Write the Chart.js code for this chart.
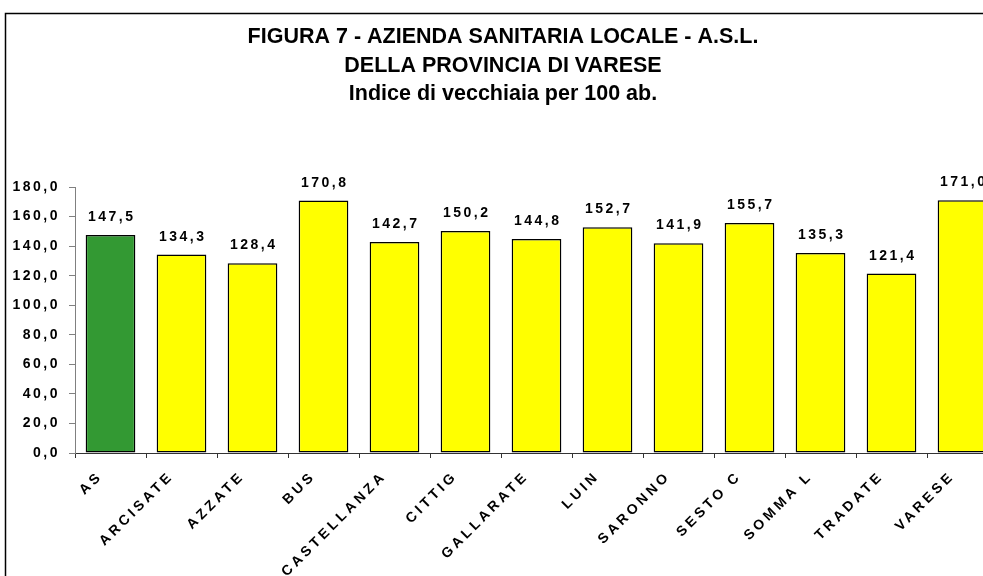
<!DOCTYPE html>
<html><head><meta charset="utf-8">
<script src="https://cdn.jsdelivr.net/npm/chart.js@4.4.0/dist/chart.umd.min.js"></script>
<style>html,body{margin:0;padding:0;overflow:hidden;background:#fff;width:983px;height:576px}canvas{display:block}</style>
</head><body><canvas id="c" width="1010" height="576"></canvas>
<script>
const titleLines = ["FIGURA 7 - AZIENDA SANITARIA LOCALE - A.S.L.", "DELLA PROVINCIA DI VARESE", "Indice di vecchiaia per 100 ab."];
const categories = ["AS", "ARCISATE", "AZZATE", "BUS", "CASTELLANZA", "CITTIG", "GALLARATE", "LUIN", "SARONNO", "SESTO C", "SOMMA L", "TRADATE", "VARESE"];
const values = [147.5, 134.3, 128.4, 170.8, 142.7, 150.2, 144.8, 152.7, 141.9, 155.7, 135.3, 121.4, 171.0];
const barColors = ["#339933", "#ffff00", "#ffff00", "#ffff00", "#ffff00", "#ffff00", "#ffff00", "#ffff00", "#ffff00", "#ffff00", "#ffff00", "#ffff00", "#ffff00"];
const yMin = 0, yMax = 180, yStep = 20;

const fmt = v => v.toFixed(1).replace('.', ',');
const FONT = "'Liberation Sans', Arial, sans-serif";

function wrapLabels(scale, spacing) {
  if (scale._lsWrapped) return;
  const orig = scale.drawLabels.bind(scale);
  scale.drawLabels = (ca) => {
    const c = scale.ctx;
    c.save();
    c.letterSpacing = spacing;
    orig(ca);
    c.restore();
  };
  scale._lsWrapped = true;
}

const framePlugin = {
  id: 'frame',
  beforeDraw(chart) {
    const ctx = chart.ctx;
    wrapLabels(chart.scales.x, '3.5px');
    wrapLabels(chart.scales.y, '2.5px');
    ctx.save();
    ctx.strokeStyle = '#000';
    ctx.lineWidth = 1.5;
    ctx.strokeRect(5.5, 13.5, 1200, 1000);
    ctx.restore();
  },
  afterDatasetsDraw(chart) {
    const ctx = chart.ctx;
    const meta = chart.getDatasetMeta(0);
    ctx.save();
    ctx.letterSpacing = '2.5px';
    ctx.font = "bold 14px " + FONT;
    ctx.fillStyle = '#000';
    ctx.textAlign = 'center';
    ctx.textBaseline = 'alphabetic';
    meta.data.forEach((bar, i) => {
      ctx.fillText(fmt(values[i]), bar.x + 1.25, bar.y - 14);
    });
    ctx.restore();
  },
  afterDraw(chart) {
    const ctx = chart.ctx;
    ctx.save();
    ctx.letterSpacing = '0px';
    ctx.font = "bold 21.5px " + FONT;
    ctx.fillStyle = '#000';
    ctx.textAlign = 'center';
    ctx.textBaseline = 'alphabetic';
    const ys = [43, 72, 100];
    titleLines.forEach((t, i) => ctx.fillText(t, 503, ys[i]));
    ctx.restore();
  }
};

new Chart(document.getElementById('c'), {
  type: 'bar',
  data: {
    labels: categories,
    datasets: [{
      data: values,
      backgroundColor: barColors,
      borderColor: '#000',
      borderWidth: 1.5,
      borderSkipped: false,
      categoryPercentage: 1,
      barPercentage: 0.7
    }]
  },
  options: {
    responsive: false,
    animation: false,
    layout: { padding: { left: 5, top: 187, right: 12, bottom: 0 } },
    plugins: { legend: { display: false }, title: { display: false }, tooltip: { enabled: false } },
    scales: {
      x: {
        grid: { display: true, drawOnChartArea: false, tickLength: 5, color: '#333', offset: true },
        border: { color: '#333', width: 1 },
        ticks: { font: { family: FONT, size: 14, weight: 'bold' }, color: '#000', minRotation: 45, maxRotation: 45, autoSkip: false, padding: 10, labelOffset: -10 },
        afterFit: s => { s.height = 123; }
      },
      y: {
        min: yMin, max: yMax,
        grid: { display: true, drawOnChartArea: false, tickLength: 6, color: '#808080' },
        border: { color: '#808080', width: 1 },
        ticks: { stepSize: yStep, callback: v => fmt(v), font: { family: FONT, size: 14, weight: 'bold' }, color: '#000', padding: 9 },
        afterFit: s => { s.width = 70; }
      }
    }
  },
  plugins: [framePlugin]
});
</script>
</body></html>
